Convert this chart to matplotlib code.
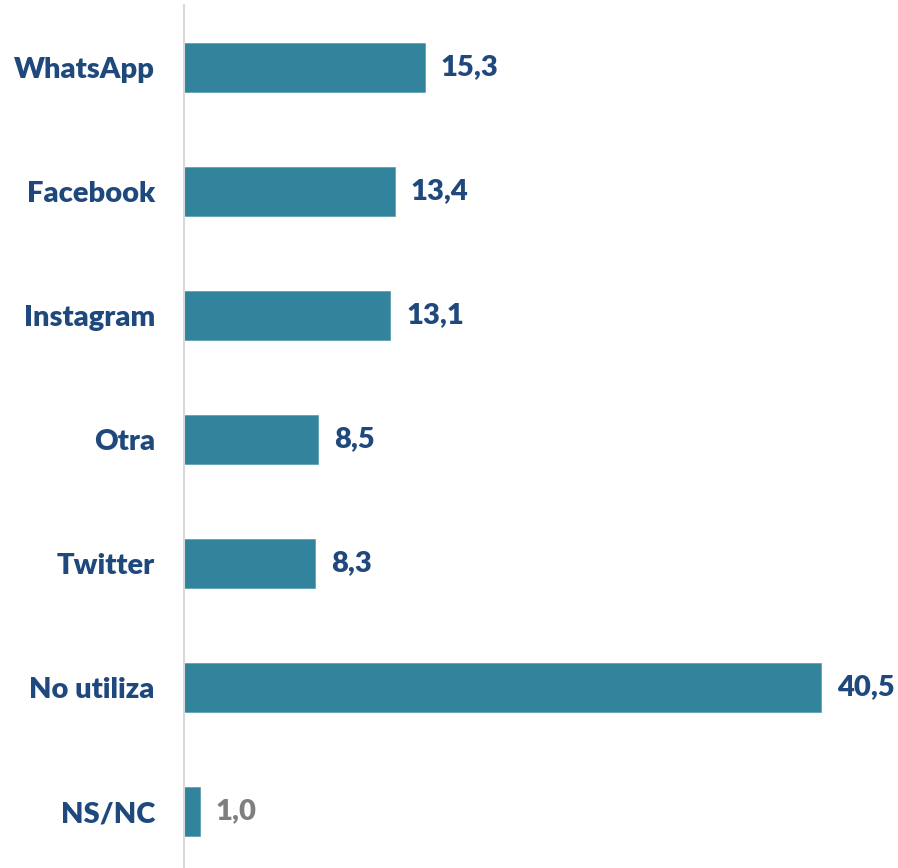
import matplotlib.pyplot as plt

categories = ["WhatsApp", "Facebook", "Instagram", "Otra", "Twitter", "No utiliza", "NS/NC"]
values = [15.3, 13.4, 13.1, 8.5, 8.3, 40.5, 1.0]
value_labels = ["15,3", "13,4", "13,1", "8,5", "8,3", "40,5", "1,0"]
label_colors = ["#1F497D"] * 6 + ["#7F7F7F"]

plt.rcParams["font.family"] = ["Lato", "DejaVu Sans"]

fig = plt.figure(figsize=(8.98, 8.68), dpi=100)
W, H = 898, 868
ax = fig.add_axes([184 / W, 0, 1 - 184 / W, 1 - 5 / H])

pos = list(range(len(categories)))
ax.barh(pos, values, height=0.395, color="#31849B", edgecolor="#5FA3B5", linewidth=0.6)

ax.set_xlim(0, (W - 184) / 15.74)
ax.set_ylim(6 + 56.5 / 124, -62.5 / 124)

for i, (v, lab, c) in enumerate(zip(values, value_labels, label_colors)):
    ax.annotate(lab, (v, i), xytext=(16, 0), textcoords="offset pixels",
                va="center", ha="left", fontsize=21, fontweight="heavy", color=c)

ax.set_yticks(pos)
ax.set_yticklabels(categories, fontsize=21, fontweight="heavy", color="#1F497D")
ax.tick_params(axis="y", length=0, pad=21)
ax.set_xticks([])

for s in ["top", "right", "bottom"]:
    ax.spines[s].set_visible(False)
ax.spines["left"].set_color("#D9D9D9")
ax.spines["left"].set_linewidth(1.5)

fig.savefig("out.png", dpi=100)
